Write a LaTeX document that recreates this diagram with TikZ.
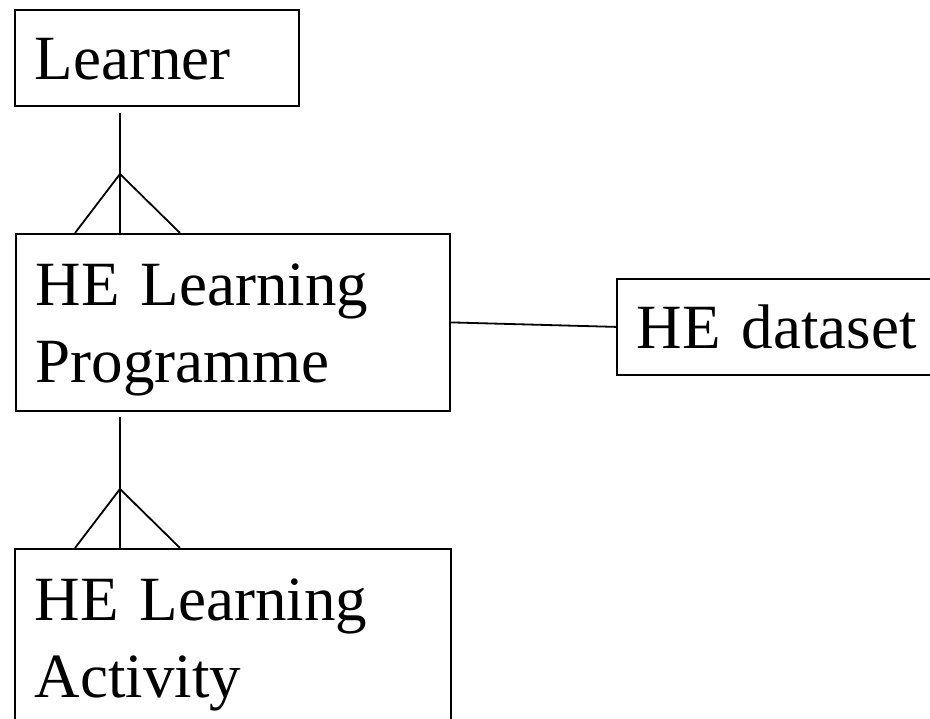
\documentclass[tikz,border=0pt]{standalone}
\usepackage{fontspec}
\setmainfont{Liberation Serif}
\usetikzlibrary{positioning}
\tikzset{entity/.style={draw,line width=1.8pt,anchor=north west,align=left,inner xsep=20pt,inner ysep=0pt,font=\fontsize{63}{77}\selectfont},
  onerow/.style={entity,text height=70pt,text depth=26pt},
  tworow/.style={entity,text height=72pt,text depth=105pt},
  link/.style={line width=1.8pt}}

\begin{document}
\begin{tikzpicture}[x=1pt,y=-1pt]
          \useasboundingbox (0,0) rectangle (930,719);

          % entities
          \node (learner) [onerow,text width=244pt] at (14,9) {Learner};
          \node (prog) [tworow,text width=394pt] at (15,233) {HE Learning\\Programme};
          \node (act) [tworow,text width=396pt] at (14,548) {HE Learning\\Activity};
          \node (data) [onerow,text width=290pt] at (616,278) {HE dataset};

          % one-to-many links with crow's feet
          \coordinate (f1) at ([xshift=105pt,yshift=59pt]prog.north west);
          \draw[link] ([xshift=106pt,yshift=-6pt]learner.south west) -- ([xshift=105pt]prog.north west);
          \draw[link] ([xshift=60pt]prog.north west) -- (f1) -- ([xshift=165pt]prog.north west);

          \coordinate (f2) at ([xshift=106pt,yshift=59pt]act.north west);
          \draw[link] ([xshift=105pt,yshift=-5pt]prog.south west) -- ([xshift=106pt]act.north west);
          \draw[link] ([xshift=61pt]act.north west) -- (f2) -- ([xshift=166pt]act.north west);

          % plain link
          \draw[link] (prog.east) -- (data.west);
\end{tikzpicture}
\end{document}
